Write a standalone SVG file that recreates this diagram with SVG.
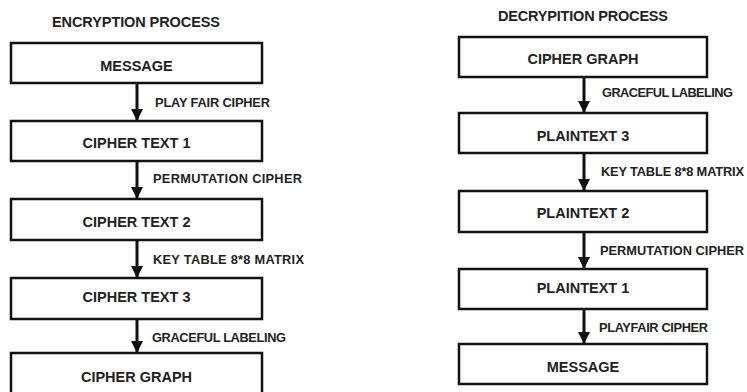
<svg xmlns="http://www.w3.org/2000/svg" width="747" height="392" viewBox="0 0 747 392">
<style>
.box{fill:#fff;stroke:#111;stroke-width:2.5}
.t{font-family:"Liberation Sans",Arial,sans-serif;font-weight:bold;fill:#222}
.node{font-size:14.5px;text-anchor:middle}
.lbl{font-size:12.8px}
.title{font-size:14.5px}
.conn{stroke:#111;stroke-width:3;fill:none}
</style>
<defs>
<marker id="ah" markerUnits="userSpaceOnUse" markerWidth="14" markerHeight="12" refX="12" refY="6" orient="auto">
<path d="M0,0 L12,6 L0,12 Z" fill="#111"/>
</marker>
</defs>
<rect width="747" height="392" fill="#fff"/>
<text class="t title" x="52" y="27" textLength="168">ENCRYPTION PROCESS</text>
<text class="t title" x="498" y="21" textLength="170">DECRYPITION PROCESS</text>
<g id="connectors">
<line class="conn" x1="137" y1="83" x2="137" y2="121" marker-end="url(#ah)"/>
<line class="conn" x1="137" y1="161" x2="137" y2="199" marker-end="url(#ah)"/>
<line class="conn" x1="137" y1="240" x2="137" y2="278" marker-end="url(#ah)"/>
<line class="conn" x1="137" y1="319" x2="137" y2="353" marker-end="url(#ah)"/>
<line class="conn" x1="584" y1="77" x2="584" y2="113" marker-end="url(#ah)"/>
<line class="conn" x1="584" y1="153" x2="584" y2="191" marker-end="url(#ah)"/>
<line class="conn" x1="584" y1="232" x2="584" y2="269" marker-end="url(#ah)"/>
<line class="conn" x1="584" y1="309" x2="584" y2="344" marker-end="url(#ah)"/>
<text class="t lbl" x="155" y="107" textLength="115">PLAY FAIR CIPHER</text>
<text class="t lbl" x="153" y="183" textLength="149">PERMUTATION CIPHER</text>
<text class="t lbl" x="153" y="264" textLength="151">KEY TABLE 8*8 MATRIX</text>
<text class="t lbl" x="152" y="342" textLength="134">GRACEFUL LABELING</text>
<text class="t lbl" x="602" y="97" textLength="131">GRACEFUL LABELING</text>
<text class="t lbl" x="601" y="176" textLength="143">KEY TABLE 8*8 MATRIX</text>
<text class="t lbl" x="600" y="255" textLength="144">PERMUTATION CIPHER</text>
<text class="t lbl" x="599" y="332" textLength="109">PLAYFAIR CIPHER</text>
</g>
<g id="enc-message"><rect class="box" x="11" y="43" width="251" height="40"/><text class="t node" x="136.5" y="71">MESSAGE</text></g>
<g id="enc-ct1"><rect class="box" x="11" y="121" width="251" height="40"/><text class="t node" x="136.5" y="148">CIPHER TEXT 1</text></g>
<g id="enc-ct2"><rect class="box" x="11" y="199" width="251" height="41"/><text class="t node" x="136.5" y="227">CIPHER TEXT 2</text></g>
<g id="enc-ct3"><rect class="box" x="11" y="278" width="251" height="41"/><text class="t node" x="136.5" y="302">CIPHER TEXT 3</text></g>
<g id="enc-graph"><rect class="box" x="11" y="353" width="251" height="42"/><text class="t node" x="136.5" y="382">CIPHER GRAPH</text></g>
<g id="dec-graph"><rect class="box" x="459" y="37" width="248" height="40"/><text class="t node" x="583" y="64">CIPHER GRAPH</text></g>
<g id="dec-pt3"><rect class="box" x="459" y="113" width="248" height="40"/><text class="t node" x="583" y="141">PLAINTEXT 3</text></g>
<g id="dec-pt2"><rect class="box" x="459" y="191" width="248" height="41"/><text class="t node" x="583" y="218">PLAINTEXT 2</text></g>
<g id="dec-pt1"><rect class="box" x="459" y="269" width="248" height="40"/><text class="t node" x="583" y="293">PLAINTEXT 1</text></g>
<g id="dec-message"><rect class="box" x="459" y="344" width="248" height="40"/><text class="t node" x="583" y="372">MESSAGE</text></g>
</svg>
